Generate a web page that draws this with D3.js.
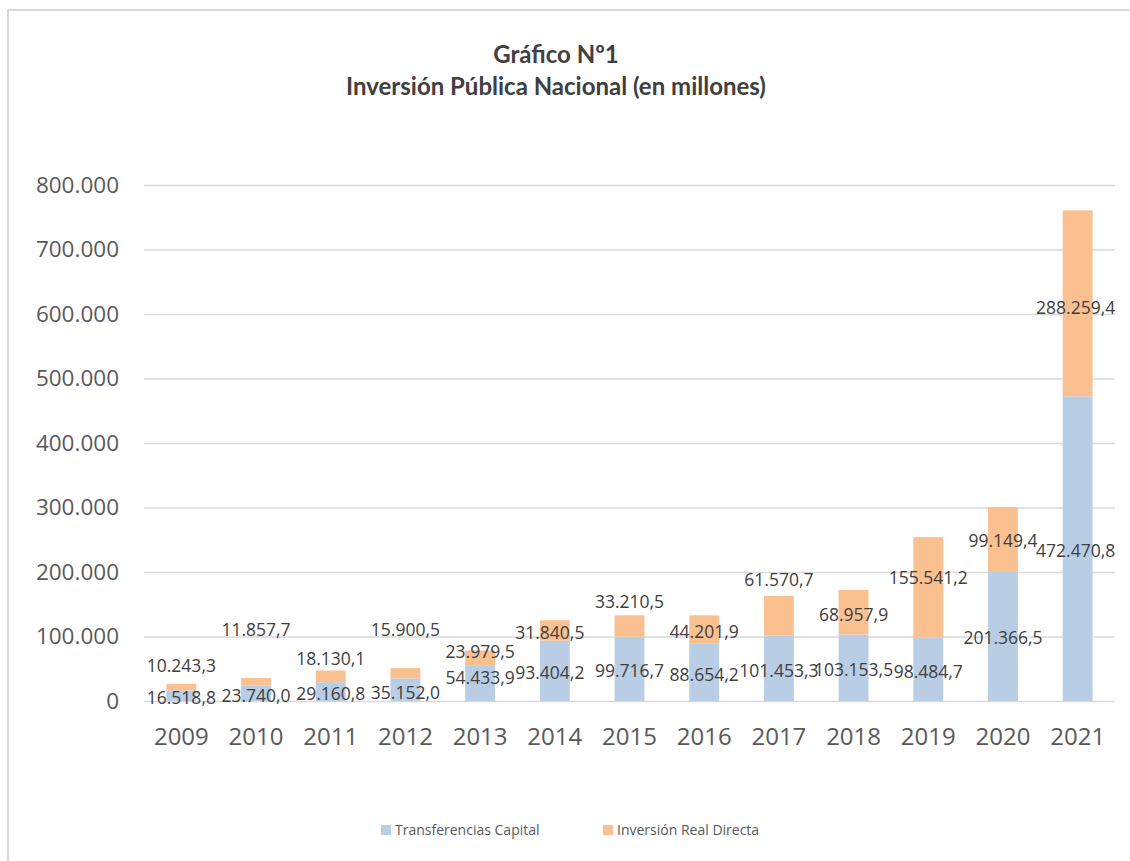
<!DOCTYPE html>
<html>
<head>
<meta charset="utf-8">
<script src="https://cdn.jsdelivr.net/npm/d3@7"></script>
<style>
  body { margin: 0; background: #fff; }
  svg { display: block; font-family: "Open Sans", sans-serif; }
</style>
</head>
<body>
<div id="vis"></div>
<script>
// chart values
var years = ['2009', '2010', '2011', '2012', '2013', '2014', '2015',
             '2016', '2017', '2018', '2019', '2020', '2021'];
var transferencias = [16518.8, 23740.0, 29160.8, 35152.0, 54433.9, 93404.2, 99716.7,
                      88654.2, 101453.3, 103153.5, 98484.7, 201366.5, 472470.8];
var inversionReal = [10243.3, 11857.7, 18130.1, 15900.5, 23979.5, 31840.5, 33210.5,
                     44201.9, 61570.7, 68957.9, 155541.2, 99149.4, 288259.4];
var seriesNames = ['Transferencias Capital', 'Inversión Real Directa'];
var yTicks = [0, 100000, 200000, 300000, 400000, 500000, 600000, 700000, 800000];

// hand-moved data labels in the original (pixel nudges, per series)
var nudgeBlue = [0, 0, 0, 1, -8, 0, 0, 0, 0, 0, 0, 0, 0];
var nudgeOrange = [-23, -54, -20, -45, -8, 0, -26, 0, -38, 0, -12, 0, 2];
var nudgeX = [0, 0, 0, 0, 0, -5, 0, 0, 0, 0, 0, 0, -2];

var width = 1130;
var height = 861;
var colors = ['#B9CDE5', '#FAC090'];

var locale = d3.formatLocale({ decimal: ',', thousands: '.', grouping: [3], currency: ['', ''] });
var fmtTick = locale.format(',.0f');
var fmtLabel = locale.format(',.1f');

var svg = d3.select('#vis').append('svg')
    .attr('width', width)
    .attr('height', height);

// chart frame (only top and left edges are in view)
svg.append('rect')
    .attr('x', 8).attr('y', 10)
    .attr('width', 1200).attr('height', 900)
    .attr('fill', '#fff')
    .attr('stroke', '#d9d9d9')
    .attr('stroke-width', 2);

var x = d3.scaleBand()
    .domain(years)
    .range([144, 1115])
    .paddingInner(0.6)
    .paddingOuter(0.3);

var y = d3.scaleLinear()
    .domain([0, 800000])
    .range([701, 185]);

// gridlines + y labels
var yAxis = d3.axisLeft(y)
    .tickValues(yTicks)
    .tickFormat(fmtTick)
    .tickSize(-(1115 - 144))
    .tickPadding(25);

var gy = svg.append('g')
    .attr('transform', 'translate(144,0)')
    .call(yAxis);
gy.select('.domain').remove();
gy.selectAll('.tick line')
    .attr('stroke', '#d9d9d9')
    .attr('stroke-width', 1.5);
gy.selectAll('.tick text')
    .attr('fill', '#595959')
    .style('font-size', '22.5px')
    .style('font-family', '"Open Sans", sans-serif');

// x labels
var xAxis = d3.axisBottom(x).tickSize(0).tickPadding(27);
var gx = svg.append('g')
    .attr('transform', 'translate(0,701)')
    .call(xAxis);
gx.select('.domain').remove();
gx.selectAll('.tick text')
    .attr('fill', '#595959')
    .style('font-size', '24px')
    .style('font-family', '"Open Sans", sans-serif');

// stacked data
var rows = years.map(function (yr, i) {
    return { year: yr, a: transferencias[i], b: inversionReal[i], i: i };
});
var stack = d3.stack().keys(['a', 'b']);
var series = stack(rows);

var layers = svg.selectAll('.layer')
    .data(series)
    .enter().append('g')
    .attr('class', 'layer')
    .attr('fill', function (d, i) { return colors[i]; });

layers.selectAll('rect')
    .data(function (d) { return d; })
    .enter().append('rect')
    .attr('x', function (d) { return x(d.data.year); })
    .attr('width', x.bandwidth())
    .attr('y', function (d) { return y(d[1]); })
    .attr('height', function (d) { return y(d[0]) - y(d[1]); });

// data labels
series.forEach(function (s, si) {
    var nudges = si === 0 ? nudgeBlue : nudgeOrange;
    svg.append('g').selectAll('text')
        .data(s)
        .enter().append('text')
        .attr('x', function (d) { return x(d.data.year) + x.bandwidth() / 2 + nudgeX[d.data.i]; })
        .attr('y', function (d) { return (y(d[0]) + y(d[1])) / 2 + 2 + nudges[d.data.i]; })
        .attr('dy', '0.36em')
        .attr('text-anchor', 'middle')
        .attr('fill', '#404040')
        .style('font-size', '17.5px')
        .text(function (d) { return fmtLabel(d[1] - d[0]); });
});

// title
var title = svg.append('g')
    .attr('text-anchor', 'middle')
    .attr('fill', '#404040')
    .style('font-family', 'Lato, sans-serif')
    .style('font-weight', 'bold')
    .style('font-size', '24px');
title.append('text').attr('x', 556).attr('y', 63).text('Gráfico Nº1');
title.append('text').attr('x', 556).attr('y', 95).text('Inversión Pública Nacional (en millones)');

// legend
var legendX = [381, 603];
var legend = svg.selectAll('.legend')
    .data(seriesNames)
    .enter().append('g')
    .attr('class', 'legend')
    .attr('transform', function (d, i) { return 'translate(' + legendX[i] + ',825)'; });
legend.append('rect')
    .attr('width', 10).attr('height', 10)
    .attr('fill', function (d, i) { return colors[i]; });
legend.append('text')
    .attr('x', 14).attr('y', 5)
    .attr('dy', '0.35em')
    .attr('fill', '#595959')
    .style('font-size', '14px')
    .text(function (d) { return d; });
</script>
</body>
</html>
